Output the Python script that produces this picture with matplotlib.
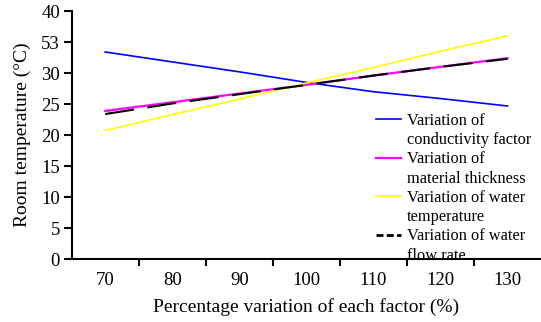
import matplotlib
matplotlib.use("Agg")
import matplotlib.pyplot as plt
from matplotlib.lines import Line2D

plt.rcParams['font.family'] = ['Liberation Serif', 'DejaVu Serif']

# data
categories = [70, 80, 90, 100, 110, 120, 130]
conductivity = [33.4, 31.8, 30.2, 28.5, 27.0, 25.9, 24.7]
thickness = [23.9, 25.3, 26.7, 28.1, 29.6, 31.0, 32.4]
water_temp = [20.75, 23.3, 25.8, 28.4, 30.9, 33.5, 36.0]
flow_rate = [23.4, 25.1, 26.6, 28.1, 29.6, 31.0, 32.3]

y_ticks = [0, 5, 10, 15, 20, 25, 30, 35, 40]
y_tick_labels = ['0', '5', '10', '15', '20', '25', '30', '53', '40']

fig = plt.figure(figsize=(5.41, 3.22), dpi=100)
ax = fig.add_axes([0.1325, 0.1947, 0.8675, 0.7711])

xs = list(range(len(categories)))
l1, = ax.plot(xs, conductivity, color='#0000ff', lw=1.2)
l2, = ax.plot(xs, thickness, color='#ff00ff', lw=1.6)
l3, = ax.plot(xs, water_temp, color='#ffff00', lw=1.2)
l4, = ax.plot(xs, flow_rate, color='black', lw=1.5, dashes=(14, 6.5))

ax.set_xlim(-0.5, 6.5)
ax.set_ylim(0, 40)

# category labels in the middle, tick marks on the boundaries
ax.set_xticks(xs)
ax.set_xticklabels([str(c) for c in categories])
ax.set_xticks([i + 0.5 for i in range(len(categories) - 1)], minor=True)
ax.tick_params(axis='x', which='major', length=0, pad=9, labelsize=13.5)
ax.tick_params(axis='x', which='minor', length=5, width=1.5, direction='out')

ax.set_yticks(y_ticks)
ax.set_yticklabels(y_tick_labels)
ax.tick_params(axis='y', length=5.5, width=1.5, pad=3, labelsize=13.5)

for side in ['top', 'right']:
    ax.spines[side].set_visible(False)
for side in ['left', 'bottom']:
    ax.spines[side].set_linewidth(1.5)

ax.set_xlabel("Percentage variation of each factor (%)", fontsize=14, labelpad=6.5)
ax.set_ylabel("Room temperature (°C)", fontsize=14, labelpad=7)

# two-line legend entries, handle next to the first line
blank = Line2D([], [], color='none')
dash_handle = Line2D([], [], color='black', lw=2, dashes=(2.5, 1.2))
handles = [l1, blank, l2, blank, l3, blank, dash_handle, blank]
labels = ["Variation of", "conductivity factor",
          "Variation of", "material thickness",
          "Variation of water", "temperature",
          "Variation of water", "flow rate"]
ax.legend(handles, labels, loc='upper left', bbox_to_anchor=(0.648, 0.59),
          frameon=False, fontsize=11.8, handlelength=1.55, handletextpad=0.35,
          labelspacing=0.2, borderpad=0, borderaxespad=0)

fig.savefig("out.png", dpi=100)
